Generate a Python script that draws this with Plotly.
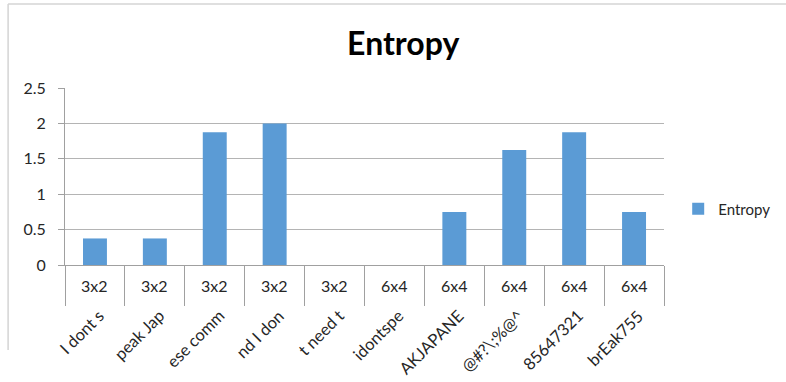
import plotly.graph_objects as go

labels = ["I dont s", "peak Jap", "ese comm", "nd I don", "t need t",
          "idontspe", "AKJAPANE", "@#?\\;%@^", "85647321", "brEak755"]
groups = ["3x2", "3x2", "3x2", "3x2", "3x2", "6x4", "6x4", "6x4", "6x4", "6x4"]
entropy = [0.375, 0.375, 1.875, 2.0, 0.0, 0.0, 0.75, 1.625, 1.875, 0.75]
yticks = [0, 0.5, 1, 1.5, 2, 2.5]
ytick_text = ["0", "0.5", "1", "1.5", "2", "2.5"]

FONT = "Lato, 'Noto Sans', sans-serif"
GRID = "#b4b4b4"
AXIS = "#a0a0a0"

fig = go.Figure()
fig.add_trace(go.Bar(x=labels, y=entropy, name="Entropy",
                     marker=dict(color="#5b9bd5", line=dict(width=0))))

ann = []
for i, (lab, grp) in enumerate(zip(labels, groups)):
    ann.append(dict(x=i, y=-0.113, xref="x", yref="paper", text=grp,
                    showarrow=False, xanchor="center", yanchor="middle",
                    font=dict(family=FONT, size=16, color="#262626")))
    ann.append(dict(x=i, y=-0.215, xref="x", yref="paper", text=lab,
                    showarrow=False, xanchor="right", yanchor="top",
                    xshift=16, textangle=-45,
                    font=dict(family=FONT, size=16.5, color="#262626")))

fig.update_layout(
    width=786, height=382,
    margin=dict(l=65, r=121, t=88, b=117),
    paper_bgcolor="white", plot_bgcolor="white",
    bargap=0.6,
    title=dict(text="<b>Entropy</b>", x=0.513, xanchor="center",
               y=0.886, yanchor="middle",
               font=dict(family=FONT, size=32, color="black")),
    showlegend=True,
    legend=dict(x=1.022, y=0.316, xanchor="left", yanchor="middle",
                font=dict(family=FONT, size=15, color="#262626"),
                bgcolor="rgba(0,0,0,0)"),
    font=dict(family=FONT),
    annotations=ann,
    shapes=[
        dict(type="line", xref="paper", yref="paper", x0=-0.095, x1=1.25,
             y0=1.4746, y1=1.4746, line=dict(color="#d4d4d4", width=1.5)),
        dict(type="line", xref="paper", yref="paper", x0=-0.095, x1=-0.095,
             y0=1.4746, y1=-0.48, line=dict(color="#d4d4d4", width=1.5)),
    ],
)
fig.update_xaxes(type="category", showticklabels=False, ticks="outside",
                 tickson="boundaries", ticklen=40, tickcolor=AXIS, tickwidth=1,
                 showline=True, linecolor=AXIS, linewidth=1, showgrid=False,
                 zeroline=False, range=[-0.5, 9.5], fixedrange=True)
fig.update_yaxes(range=[0, 2.5], tickvals=yticks, ticktext=ytick_text,
                 ticks="outside", ticklen=6, tickcolor=AXIS,
                 showline=True, linecolor=AXIS, linewidth=1,
                 showgrid=True, gridcolor=GRID, gridwidth=1, zeroline=False,
                 ticklabelstandoff=9,
                 tickfont=dict(family=FONT, size=16, color="#262626"))

fig.write_html("out.html")
